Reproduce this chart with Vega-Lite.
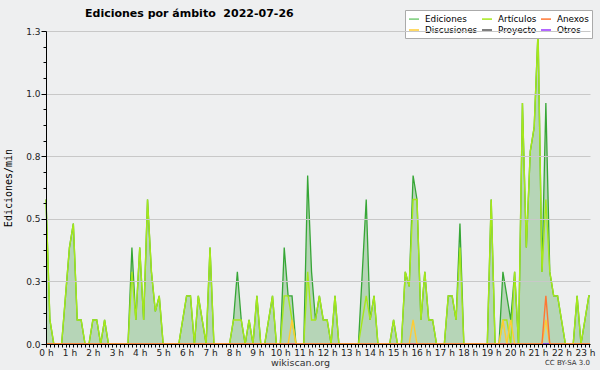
{
  "$schema": "https://vega.github.io/schema/vega-lite/v6.json",
  "width": 544,
  "height": 313,
  "autosize": "none",
  "padding": {"left": 46, "top": 31, "right": 10, "bottom": 26},
  "background": "#eeeff0",
  "config": {
    "view": {"stroke": null},
    "font": "DejaVu Sans",
    "axisX": {"labelOverlap": false, "labelFlush": false, "labelBound": false}
  },
  "title": {
    "text": "Ediciones por ámbito \u00a02022-07-26",
    "anchor": "start",
    "frame": "group",
    "dx": 39,
    "offset": -9,
    "font": "DejaVu Sans",
    "fontSize": 11,
    "fontWeight": "bold",
    "color": "#000000"
  },
  "datasets": {
    "serie": [
      {"m":0,"Ediciones":0.577,"Artículos":0.577,"Discusiones":0,"Anexos":0,"Proyecto":0,"Otros":0},
      {"m":10,"Ediciones":0.096,"Artículos":0.096,"Discusiones":0,"Anexos":0,"Proyecto":0,"Otros":0},
      {"m":20,"Ediciones":0,"Artículos":0,"Discusiones":0,"Anexos":0,"Proyecto":0,"Otros":0},
      {"m":40,"Ediciones":0,"Artículos":0,"Discusiones":0,"Anexos":0,"Proyecto":0,"Otros":0},
      {"m":50,"Ediciones":0.192,"Artículos":0.192,"Discusiones":0,"Anexos":0,"Proyecto":0,"Otros":0},
      {"m":60,"Ediciones":0.385,"Artículos":0.385,"Discusiones":0,"Anexos":0,"Proyecto":0,"Otros":0},
      {"m":70,"Ediciones":0.481,"Artículos":0.481,"Discusiones":0,"Anexos":0,"Proyecto":0,"Otros":0},
      {"m":80,"Ediciones":0.096,"Artículos":0.096,"Discusiones":0,"Anexos":0,"Proyecto":0,"Otros":0},
      {"m":90,"Ediciones":0.096,"Artículos":0.096,"Discusiones":0,"Anexos":0,"Proyecto":0,"Otros":0},
      {"m":100,"Ediciones":0,"Artículos":0,"Discusiones":0,"Anexos":0,"Proyecto":0,"Otros":0},
      {"m":110,"Ediciones":0,"Artículos":0,"Discusiones":0,"Anexos":0,"Proyecto":0,"Otros":0},
      {"m":120,"Ediciones":0.096,"Artículos":0.096,"Discusiones":0,"Anexos":0,"Proyecto":0,"Otros":0},
      {"m":130,"Ediciones":0.096,"Artículos":0.096,"Discusiones":0,"Anexos":0,"Proyecto":0,"Otros":0},
      {"m":140,"Ediciones":0,"Artículos":0,"Discusiones":0,"Anexos":0,"Proyecto":0,"Otros":0},
      {"m":150,"Ediciones":0.096,"Artículos":0.096,"Discusiones":0,"Anexos":0,"Proyecto":0,"Otros":0},
      {"m":160,"Ediciones":0,"Artículos":0,"Discusiones":0,"Anexos":0,"Proyecto":0,"Otros":0},
      {"m":210,"Ediciones":0,"Artículos":0,"Discusiones":0,"Anexos":0,"Proyecto":0,"Otros":0},
      {"m":220,"Ediciones":0.385,"Artículos":0.288,"Discusiones":0,"Anexos":0,"Proyecto":0,"Otros":0},
      {"m":230,"Ediciones":0.096,"Artículos":0.096,"Discusiones":0,"Anexos":0,"Proyecto":0,"Otros":0},
      {"m":240,"Ediciones":0.385,"Artículos":0.385,"Discusiones":0,"Anexos":0,"Proyecto":0,"Otros":0},
      {"m":250,"Ediciones":0.096,"Artículos":0.096,"Discusiones":0,"Anexos":0,"Proyecto":0,"Otros":0},
      {"m":260,"Ediciones":0.577,"Artículos":0.577,"Discusiones":0,"Anexos":0,"Proyecto":0,"Otros":0},
      {"m":270,"Ediciones":0.288,"Artículos":0.288,"Discusiones":0,"Anexos":0,"Proyecto":0,"Otros":0},
      {"m":280,"Ediciones":0.13,"Artículos":0.13,"Discusiones":0,"Anexos":0,"Proyecto":0,"Otros":0},
      {"m":290,"Ediciones":0.192,"Artículos":0.192,"Discusiones":0,"Anexos":0,"Proyecto":0,"Otros":0},
      {"m":300,"Ediciones":0,"Artículos":0,"Discusiones":0,"Anexos":0,"Proyecto":0,"Otros":0},
      {"m":340,"Ediciones":0,"Artículos":0,"Discusiones":0,"Anexos":0,"Proyecto":0,"Otros":0},
      {"m":350,"Ediciones":0.096,"Artículos":0.096,"Discusiones":0,"Anexos":0,"Proyecto":0,"Otros":0},
      {"m":360,"Ediciones":0.192,"Artículos":0.192,"Discusiones":0,"Anexos":0,"Proyecto":0,"Otros":0},
      {"m":370,"Ediciones":0.192,"Artículos":0.192,"Discusiones":0,"Anexos":0,"Proyecto":0,"Otros":0},
      {"m":380,"Ediciones":0,"Artículos":0,"Discusiones":0,"Anexos":0,"Proyecto":0,"Otros":0},
      {"m":390,"Ediciones":0.192,"Artículos":0.192,"Discusiones":0,"Anexos":0,"Proyecto":0,"Otros":0},
      {"m":400,"Ediciones":0.096,"Artículos":0.096,"Discusiones":0,"Anexos":0,"Proyecto":0,"Otros":0},
      {"m":410,"Ediciones":0,"Artículos":0,"Discusiones":0,"Anexos":0,"Proyecto":0,"Otros":0},
      {"m":420,"Ediciones":0.385,"Artículos":0.385,"Discusiones":0,"Anexos":0,"Proyecto":0,"Otros":0},
      {"m":430,"Ediciones":0,"Artículos":0,"Discusiones":0,"Anexos":0,"Proyecto":0,"Otros":0},
      {"m":470,"Ediciones":0,"Artículos":0,"Discusiones":0,"Anexos":0,"Proyecto":0,"Otros":0},
      {"m":480,"Ediciones":0.096,"Artículos":0.096,"Discusiones":0,"Anexos":0,"Proyecto":0,"Otros":0},
      {"m":490,"Ediciones":0.288,"Artículos":0.096,"Discusiones":0,"Anexos":0,"Proyecto":0,"Otros":0},
      {"m":500,"Ediciones":0.096,"Artículos":0.096,"Discusiones":0,"Anexos":0,"Proyecto":0,"Otros":0},
      {"m":510,"Ediciones":0,"Artículos":0,"Discusiones":0,"Anexos":0,"Proyecto":0,"Otros":0},
      {"m":520,"Ediciones":0.096,"Artículos":0.096,"Discusiones":0,"Anexos":0,"Proyecto":0,"Otros":0},
      {"m":530,"Ediciones":0,"Artículos":0,"Discusiones":0,"Anexos":0,"Proyecto":0,"Otros":0},
      {"m":540,"Ediciones":0.192,"Artículos":0.192,"Discusiones":0,"Anexos":0,"Proyecto":0,"Otros":0},
      {"m":550,"Ediciones":0,"Artículos":0,"Discusiones":0,"Anexos":0,"Proyecto":0,"Otros":0},
      {"m":560,"Ediciones":0,"Artículos":0,"Discusiones":0,"Anexos":0,"Proyecto":0,"Otros":0},
      {"m":570,"Ediciones":0.096,"Artículos":0.096,"Discusiones":0,"Anexos":0,"Proyecto":0,"Otros":0},
      {"m":580,"Ediciones":0.192,"Artículos":0.192,"Discusiones":0,"Anexos":0,"Proyecto":0,"Otros":0},
      {"m":590,"Ediciones":0,"Artículos":0,"Discusiones":0,"Anexos":0,"Proyecto":0,"Otros":0},
      {"m":600,"Ediciones":0,"Artículos":0,"Discusiones":0,"Anexos":0,"Proyecto":0,"Otros":0},
      {"m":610,"Ediciones":0.385,"Artículos":0.192,"Discusiones":0,"Anexos":0,"Proyecto":0,"Otros":0},
      {"m":620,"Ediciones":0.192,"Artículos":0.192,"Discusiones":0,"Anexos":0,"Proyecto":0,"Otros":0},
      {"m":630,"Ediciones":0.192,"Artículos":0.096,"Discusiones":0.096,"Anexos":0,"Proyecto":0,"Otros":0},
      {"m":640,"Ediciones":0,"Artículos":0,"Discusiones":0,"Anexos":0,"Proyecto":0,"Otros":0},
      {"m":660,"Ediciones":0,"Artículos":0,"Discusiones":0,"Anexos":0,"Proyecto":0,"Otros":0},
      {"m":670,"Ediciones":0.673,"Artículos":0.288,"Discusiones":0,"Anexos":0,"Proyecto":0,"Otros":0},
      {"m":680,"Ediciones":0.288,"Artículos":0.096,"Discusiones":0,"Anexos":0,"Proyecto":0,"Otros":0},
      {"m":690,"Ediciones":0.096,"Artículos":0.096,"Discusiones":0,"Anexos":0,"Proyecto":0,"Otros":0},
      {"m":700,"Ediciones":0.192,"Artículos":0.192,"Discusiones":0,"Anexos":0,"Proyecto":0,"Otros":0},
      {"m":710,"Ediciones":0.096,"Artículos":0.096,"Discusiones":0,"Anexos":0,"Proyecto":0,"Otros":0},
      {"m":720,"Ediciones":0.096,"Artículos":0.096,"Discusiones":0,"Anexos":0,"Proyecto":0,"Otros":0},
      {"m":730,"Ediciones":0,"Artículos":0,"Discusiones":0,"Anexos":0,"Proyecto":0,"Otros":0},
      {"m":740,"Ediciones":0.192,"Artículos":0.192,"Discusiones":0,"Anexos":0,"Proyecto":0,"Otros":0},
      {"m":750,"Ediciones":0,"Artículos":0,"Discusiones":0,"Anexos":0,"Proyecto":0,"Otros":0},
      {"m":800,"Ediciones":0,"Artículos":0,"Discusiones":0,"Anexos":0,"Proyecto":0,"Otros":0},
      {"m":810,"Ediciones":0.288,"Artículos":0.096,"Discusiones":0,"Anexos":0,"Proyecto":0,"Otros":0},
      {"m":820,"Ediciones":0.577,"Artículos":0.192,"Discusiones":0,"Anexos":0,"Proyecto":0,"Otros":0},
      {"m":830,"Ediciones":0.096,"Artículos":0.096,"Discusiones":0,"Anexos":0,"Proyecto":0,"Otros":0},
      {"m":840,"Ediciones":0.192,"Artículos":0.192,"Discusiones":0,"Anexos":0,"Proyecto":0,"Otros":0},
      {"m":850,"Ediciones":0,"Artículos":0,"Discusiones":0,"Anexos":0,"Proyecto":0,"Otros":0},
      {"m":880,"Ediciones":0,"Artículos":0,"Discusiones":0,"Anexos":0,"Proyecto":0,"Otros":0},
      {"m":890,"Ediciones":0.096,"Artículos":0.096,"Discusiones":0,"Anexos":0,"Proyecto":0,"Otros":0},
      {"m":900,"Ediciones":0,"Artículos":0,"Discusiones":0,"Anexos":0,"Proyecto":0,"Otros":0},
      {"m":910,"Ediciones":0,"Artículos":0,"Discusiones":0,"Anexos":0,"Proyecto":0,"Otros":0},
      {"m":920,"Ediciones":0.288,"Artículos":0.288,"Discusiones":0,"Anexos":0,"Proyecto":0,"Otros":0},
      {"m":930,"Ediciones":0.23,"Artículos":0.23,"Discusiones":0,"Anexos":0,"Proyecto":0,"Otros":0},
      {"m":940,"Ediciones":0.673,"Artículos":0.577,"Discusiones":0.096,"Anexos":0,"Proyecto":0,"Otros":0},
      {"m":950,"Ediciones":0.577,"Artículos":0.577,"Discusiones":0,"Anexos":0,"Proyecto":0,"Otros":0},
      {"m":960,"Ediciones":0.096,"Artículos":0.096,"Discusiones":0,"Anexos":0,"Proyecto":0,"Otros":0},
      {"m":970,"Ediciones":0.288,"Artículos":0.288,"Discusiones":0,"Anexos":0,"Proyecto":0,"Otros":0},
      {"m":980,"Ediciones":0.096,"Artículos":0.096,"Discusiones":0,"Anexos":0,"Proyecto":0,"Otros":0},
      {"m":990,"Ediciones":0.096,"Artículos":0.096,"Discusiones":0,"Anexos":0,"Proyecto":0,"Otros":0},
      {"m":1000,"Ediciones":0,"Artículos":0,"Discusiones":0,"Anexos":0,"Proyecto":0,"Otros":0},
      {"m":1020,"Ediciones":0,"Artículos":0,"Discusiones":0,"Anexos":0,"Proyecto":0,"Otros":0},
      {"m":1030,"Ediciones":0.192,"Artículos":0.192,"Discusiones":0,"Anexos":0,"Proyecto":0,"Otros":0},
      {"m":1040,"Ediciones":0.192,"Artículos":0.192,"Discusiones":0,"Anexos":0,"Proyecto":0,"Otros":0},
      {"m":1050,"Ediciones":0.096,"Artículos":0.096,"Discusiones":0,"Anexos":0,"Proyecto":0,"Otros":0},
      {"m":1060,"Ediciones":0.481,"Artículos":0.385,"Discusiones":0,"Anexos":0,"Proyecto":0,"Otros":0},
      {"m":1070,"Ediciones":0,"Artículos":0,"Discusiones":0,"Anexos":0,"Proyecto":0,"Otros":0},
      {"m":1130,"Ediciones":0,"Artículos":0,"Discusiones":0,"Anexos":0,"Proyecto":0,"Otros":0},
      {"m":1140,"Ediciones":0.577,"Artículos":0.577,"Discusiones":0,"Anexos":0,"Proyecto":0,"Otros":0},
      {"m":1150,"Ediciones":0,"Artículos":0,"Discusiones":0,"Anexos":0,"Proyecto":0,"Otros":0},
      {"m":1160,"Ediciones":0,"Artículos":0,"Discusiones":0,"Anexos":0,"Proyecto":0,"Otros":0},
      {"m":1170,"Ediciones":0.288,"Artículos":0.096,"Discusiones":0.096,"Anexos":0,"Proyecto":0,"Otros":0},
      {"m":1180,"Ediciones":0.192,"Artículos":0.096,"Discusiones":0,"Anexos":0,"Proyecto":0,"Otros":0},
      {"m":1190,"Ediciones":0.096,"Artículos":0,"Discusiones":0.096,"Anexos":0,"Proyecto":0,"Otros":0},
      {"m":1200,"Ediciones":0.288,"Artículos":0.288,"Discusiones":0,"Anexos":0,"Proyecto":0,"Otros":0},
      {"m":1210,"Ediciones":0,"Artículos":0,"Discusiones":0,"Anexos":0,"Proyecto":0,"Otros":0},
      {"m":1220,"Ediciones":0.962,"Artículos":0.962,"Discusiones":0,"Anexos":0,"Proyecto":0,"Otros":0},
      {"m":1230,"Ediciones":0.385,"Artículos":0.385,"Discusiones":0,"Anexos":0,"Proyecto":0,"Otros":0},
      {"m":1240,"Ediciones":0.769,"Artículos":0.769,"Discusiones":0,"Anexos":0,"Proyecto":0,"Otros":0},
      {"m":1250,"Ediciones":0.865,"Artículos":0.865,"Discusiones":0,"Anexos":0,"Proyecto":0,"Otros":0},
      {"m":1260,"Ediciones":1.25,"Artículos":1.25,"Discusiones":0,"Anexos":0,"Proyecto":0,"Otros":0},
      {"m":1270,"Ediciones":0.288,"Artículos":0.288,"Discusiones":0,"Anexos":0,"Proyecto":0,"Otros":0},
      {"m":1280,"Ediciones":0.962,"Artículos":0.577,"Discusiones":0.096,"Anexos":0.192,"Proyecto":0,"Otros":0},
      {"m":1290,"Ediciones":0.288,"Artículos":0.288,"Discusiones":0,"Anexos":0,"Proyecto":0,"Otros":0},
      {"m":1300,"Ediciones":0.192,"Artículos":0.192,"Discusiones":0,"Anexos":0,"Proyecto":0,"Otros":0},
      {"m":1310,"Ediciones":0.192,"Artículos":0.192,"Discusiones":0,"Anexos":0,"Proyecto":0,"Otros":0},
      {"m":1320,"Ediciones":0.096,"Artículos":0.096,"Discusiones":0,"Anexos":0,"Proyecto":0,"Otros":0},
      {"m":1330,"Ediciones":0,"Artículos":0,"Discusiones":0,"Anexos":0,"Proyecto":0,"Otros":0},
      {"m":1350,"Ediciones":0,"Artículos":0,"Discusiones":0,"Anexos":0,"Proyecto":0,"Otros":0},
      {"m":1360,"Ediciones":0.192,"Artículos":0.192,"Discusiones":0,"Anexos":0,"Proyecto":0,"Otros":0},
      {"m":1370,"Ediciones":0,"Artículos":0,"Discusiones":0,"Anexos":0,"Proyecto":0,"Otros":0},
      {"m":1380,"Ediciones":0.096,"Artículos":0.096,"Discusiones":0,"Anexos":0,"Proyecto":0,"Otros":0},
      {"m":1390,"Ediciones":0.192,"Artículos":0.192,"Discusiones":0,"Anexos":0,"Proyecto":0,"Otros":0},
      {"m":1393,"Ediciones":0.192,"Artículos":0.192,"Discusiones":0,"Anexos":0,"Proyecto":0,"Otros":0}
    ],
    "nota": [{"texto": "CC BY-SA 3.0", "m": 1393, "valor": 0}]
  },
  "encoding": {
    "x": {
      "field": "m", "type": "quantitative",
      "scale": {"domain": [0, 1393], "nice": false, "zero": false},
      "axis": {
        "values": [0,10,20,30,40,50,60,70,80,90,100,110,120,130,140,150,160,170,180,190,200,210,220,230,240,250,260,270,280,290,300,310,320,330,340,350,360,370,380,390,400,410,420,430,440,450,460,470,480,490,500,510,520,530,540,550,560,570,580,590,600,610,620,630,640,650,660,670,680,690,700,710,720,730,740,750,760,770,780,790,800,810,820,830,840,850,860,870,880,890,900,910,920,930,940,950,960,970,980,990,1000,1010,1020,1030,1040,1050,1060,1070,1080,1090,1100,1110,1120,1130,1140,1150,1160,1170,1180,1190,1200,1210,1220,1230,1240,1250,1260,1270,1280,1290,1300,1310,1320,1330,1340,1350,1360,1370,1380,1390],
        "labelExpr": "datum.value % 60 === 0 ? (datum.value / 60) + ' h' : ''",
        "labelOverlap": false,
        "labelFlush": false,
        "labelFontSize": 9,
        "labelColor": "#222222",
        "labelPadding": 1,
        "tickSize": 3,
        "tickColor": "#000000",
        "domainColor": "#000000",
        "grid": false,
        "zindex": 1,
        "title": "wikiscan.org",
        "titleFontSize": 9.5,
        "titleFontWeight": "normal",
        "titleColor": "#333333",
        "titleX": 254,
        "titleY": 21,
        "titleBaseline": "alphabetic"
      }
    },
    "y": {
      "field": "valor", "type": "quantitative",
      "scale": {"domain": [0, 1.25], "nice": false},
      "axis": {
        "values": [0,0.0625,0.125,0.1875,0.25,0.3125,0.375,0.4375,0.5,0.5625,0.625,0.6875,0.75,0.8125,0.875,0.9375,1,1.0625,1.125,1.1875,1.25],
        "labelExpr": "(datum.value * 4) % 1 === 0 ? format(datum.value, '.1f') : ''",
        "labelFontSize": 9,
        "labelColor": "#222222",
        "labelPadding": 1,
        "tickSize": {"condition": {"test": "(datum.value * 4) % 1 === 0", "value": 5}, "value": 3},
        "tickColor": "#000000",
        "domainColor": "#000000",
        "gridColor": "#c8c8c8",
        "gridOpacity": {"condition": {"test": "(datum.value * 4) % 1 === 0", "value": 1}, "value": 0},
        "zindex": 1,
        "title": "Ediciones/min",
        "titleFont": "DejaVu Sans Mono",
        "titleFontSize": 10,
        "titleFontWeight": "normal",
        "titleColor": "#000000",
        "titlePadding": 12
      }
    }
  },
  "layer": [
    {
      "data": {"name": "serie"},
      "transform": [
        {"fold": ["Ediciones"], "as": ["serie", "valor"]}
      ],
      "mark": {"type": "area", "fill": "#9ecb9e", "line": {"stroke": "#36a636", "strokeWidth": 1.3}}
    },
    {
      "data": {"name": "serie"},
      "transform": [
        {"fold": ["Proyecto", "Otros", "Artículos", "Discusiones", "Anexos"], "as": ["serie", "valor"]}
      ],
      "mark": {"type": "line", "strokeWidth": 1.4},
      "encoding": {
        "color": {
          "field": "serie", "type": "nominal",
          "scale": {
            "domain": ["Ediciones", "Artículos", "Anexos", "Discusiones", "Proyecto", "Otros"],
            "range": ["#77cc77", "#a6e81a", "#ff7733", "#ffcc33", "#555555", "#9933ff"]
          },
          "legend": {
            "orient": "none",
            "legendX": 359,
            "legendY": -21,
            "direction": "horizontal",
            "columns": 3,
            "title": null,
            "symbolType": "stroke",
            "symbolSize": 100,
            "symbolStrokeWidth": 1.5,
            "labelFont": "DejaVu Sans",
            "labelFontSize": 8.8,
            "labelColor": "#000000",
            "labelOffset": 5,
            "labelLimit": 0,
            "columnPadding": 1,
            "rowPadding": 0,
            "padding": 3,
            "fillColor": "#ffffff",
            "strokeColor": "#aaaaaa"
          }
        }
      }
    },
    {
      "data": {"name": "nota"},
      "mark": {"type": "text", "align": "right", "baseline": "middle", "dy": 19, "fontSize": 7, "color": "#333333"},
      "encoding": {
        "text": {"field": "texto"}
      }
    }
  ]
}
